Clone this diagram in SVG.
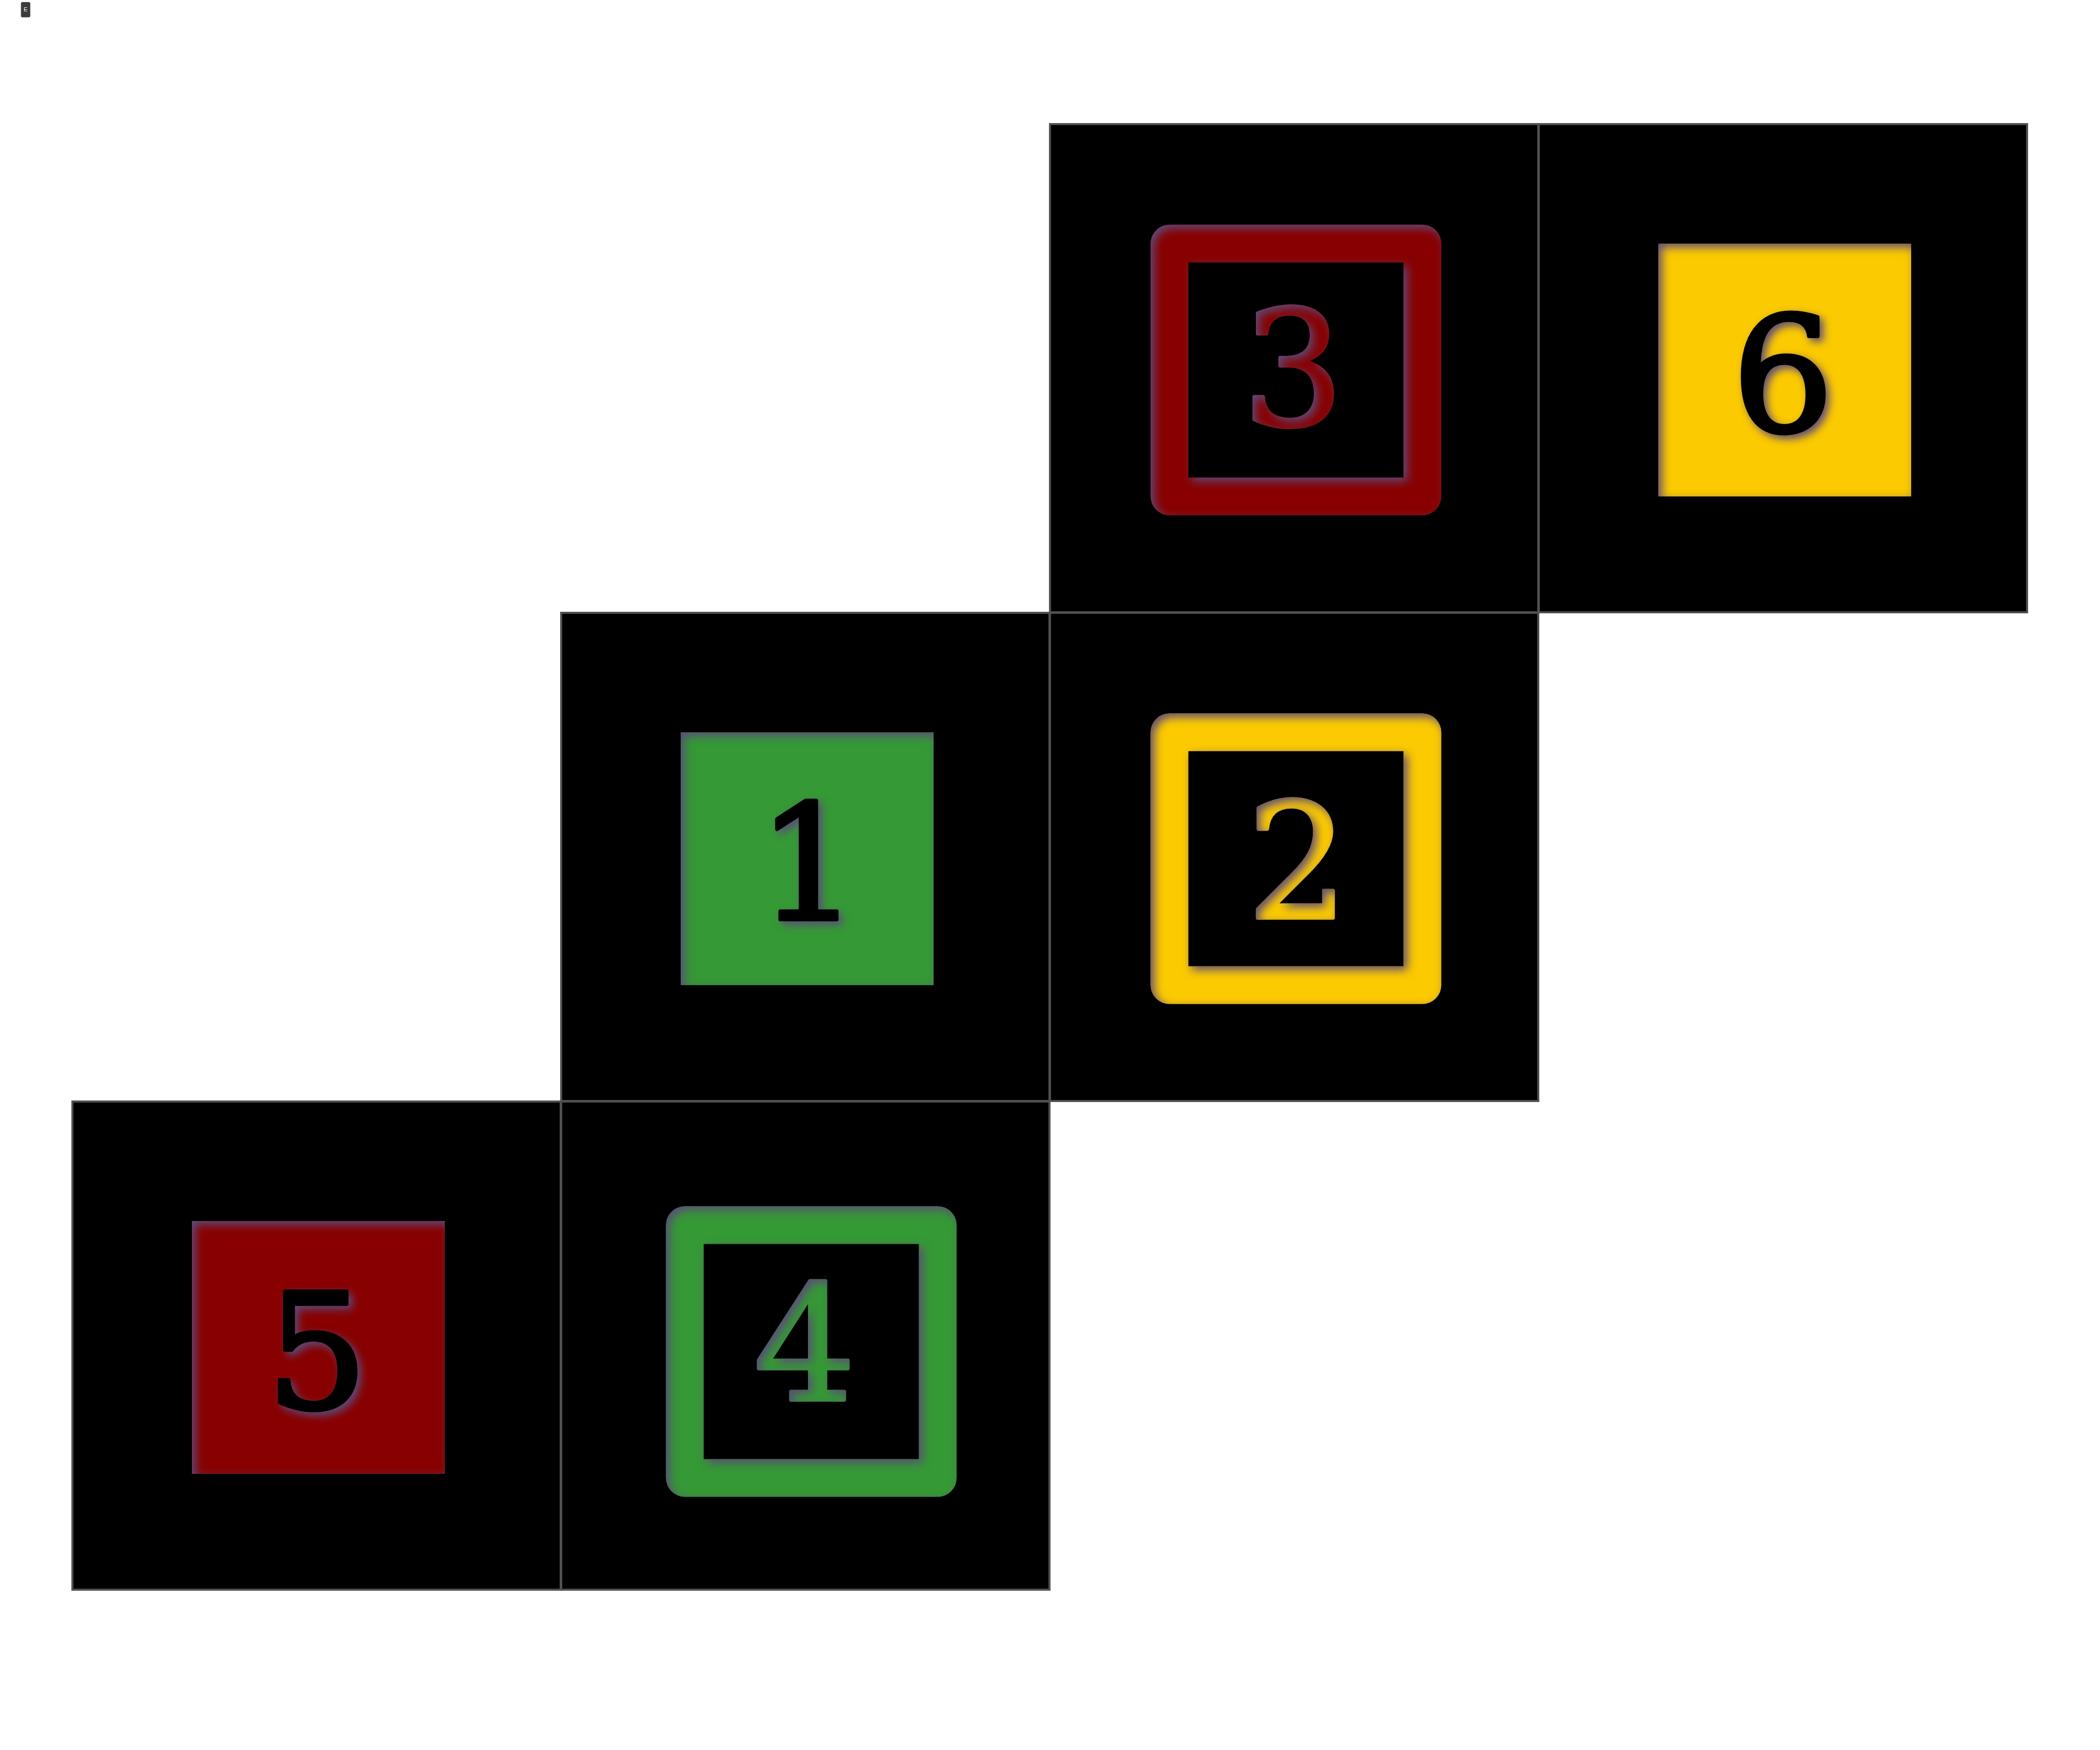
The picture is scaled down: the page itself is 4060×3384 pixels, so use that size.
<svg xmlns="http://www.w3.org/2000/svg" width="4060" height="3384" viewBox="0 0 4060 3384">
<style>
.tile{fill:#000;stroke:#505050;stroke-width:4}
.digit{font-family:"DejaVu Serif","Liberation Serif",serif;font-size:310px;text-anchor:middle;stroke-width:7;stroke-linejoin:round;stroke-linecap:round}
.red{fill:#880000;stroke:#880000}
.yel{fill:#fcca00;stroke:#fcca00}
.grn{fill:#359935;stroke:#359935}
.blk{fill:#000;stroke:#000}
rect.sq{stroke:none}
rect.frame{fill:none;stroke-width:73;stroke-linejoin:round}
</style>
<defs>
<filter id="inset" x="-10%" y="-10%" width="120%" height="120%" color-interpolation-filters="sRGB">
  <feOffset in="SourceAlpha" dx="7" dy="7" result="o"/>
  <feGaussianBlur in="o" stdDeviation="9" result="b"/>
  <feComposite in="SourceAlpha" in2="b" operator="out" result="inv"/>
  <feFlood flood-color="#5b4a7a" result="c"/>
  <feComposite in="c" in2="inv" operator="in" result="sh"/>
  <feMerge><feMergeNode in="SourceGraphic"/><feMergeNode in="sh"/></feMerge>
</filter>
<filter id="drop" x="-20%" y="-20%" width="140%" height="140%" color-interpolation-filters="sRGB">
  <feOffset in="SourceAlpha" dx="7" dy="7" result="o"/>
  <feGaussianBlur in="o" stdDeviation="8" result="b"/>
  <feFlood flood-color="#5b4a7a"/>
  <feComposite in2="b" operator="in" result="sh"/>
  <feMerge><feMergeNode in="sh"/><feMergeNode in="SourceGraphic"/></feMerge>
</filter>
</defs>
<rect width="4060" height="3384" fill="#fff"/>
<g id="badge">
  <rect x="40.5" y="4" width="18" height="29.5" rx="3" fill="#3c3c3c"/>
  <text x="49.5" y="22" font-family="Liberation Sans, Arial, sans-serif" font-size="11" fill="#fff" text-anchor="middle">E</text>
</g>
<g id="node-3" transform="translate(2030,240)">
  <rect class="tile" width="944" height="944"/>
  <rect class="frame red" x="231" y="231" width="489" height="489" filter="url(#inset)"/>
  <text class="digit red" x="470" y="582" filter="url(#inset)">3</text>
</g>
<g id="node-6" transform="translate(2975,240)">
  <rect class="tile" width="944" height="944"/>
  <rect class="sq yel" x="231" y="231" width="489" height="489" filter="url(#inset)"/>
  <text class="digit blk" x="472" y="594" filter="url(#drop)">6</text>
</g>
<g id="node-1" transform="translate(1085,1185)">
  <rect class="tile" width="944" height="944"/>
  <rect class="sq grn" x="231" y="231" width="489" height="489" filter="url(#inset)"/>
  <text class="digit blk" x="478" y="593" filter="url(#drop)">1</text>
</g>
<g id="node-2" transform="translate(2030,1185)">
  <rect class="tile" width="944" height="944"/>
  <rect class="frame yel" x="231" y="231" width="489" height="489" filter="url(#inset)"/>
  <text class="digit yel" x="479" y="590" filter="url(#inset)">2</text>
</g>
<g id="node-5" transform="translate(140,2130)">
  <rect class="tile" width="944" height="944"/>
  <rect class="sq red" x="231" y="231" width="489" height="489" filter="url(#inset)"/>
  <text class="digit blk" x="473" y="593" filter="url(#drop)">5</text>
</g>
<g id="node-4" transform="translate(1085,2130)">
  <rect class="tile" width="944" height="944"/>
  <rect class="frame grn" x="239" y="239" width="489" height="489" filter="url(#inset)"/>
  <text class="digit grn" x="471" y="577" filter="url(#inset)">4</text>
</g>
</svg>
